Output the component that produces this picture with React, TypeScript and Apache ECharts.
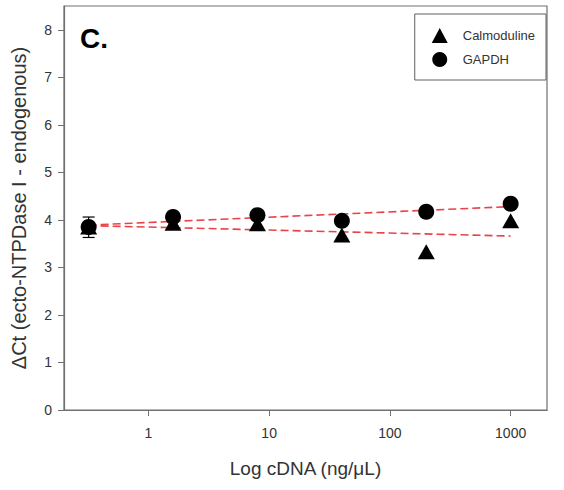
import React, { useEffect, useRef } from "react";
import * as echarts from "echarts";

const concentrations = [0.32, 1.6, 8, 40, 200, 1000];
const calmoduline = [3.85, 3.93, 3.92, 3.68, 3.33, 3.98];
const gapdh = [3.85, 4.06, 4.1, 3.98, 4.17, 4.34];
const errorBars = [[0.32, 3.63, 4.06]];
const calmFit = [[0.32, 3.88], [1000, 3.66]];
const gapdhFit = [[0.32, 3.89], [1000, 4.28]];
const xTickValues = [1, 10, 100, 1000];
const yTicks = [0, 1, 2, 3, 4, 5, 6, 7, 8];

const lg = (v: number) => Math.log10(v);
const FONT = "Liberation Sans, Arial, sans-serif";

export default function App() {
  const ref = useRef<HTMLDivElement>(null);
  useEffect(() => {
    if (!ref.current) return;
    const chart = echarts.init(ref.current, null, { renderer: "svg" });
    const axisColor = "#707070";
    chart.setOption({
      animation: false,
      backgroundColor: "#ffffff",
      textStyle: { fontFamily: FONT },
      grid: {
        left: 64,
        right: 17,
        top: 6,
        bottom: 80,
        show: true,
        borderColor: axisColor,
        borderWidth: 1.2,
      },
      legend: {
        data: ["Calmoduline", "GAPDH"],
        orient: "vertical",
        right: 18,
        top: 14,
        backgroundColor: "#ffffff",
        borderColor: "#606060",
        borderWidth: 1,
        padding: [14, 11, 13, 17],
        itemGap: 9,
        itemWidth: 16,
        itemHeight: 15,
        textStyle: { fontSize: 13, color: "#333", fontFamily: FONT, padding: [0, 0, 0, 10] },
      },
      xAxis: {
        type: "value",
        min: lg(0.2),
        max: lg(2000),
        name: "Log cDNA (ng/\u03bcL)",
        nameLocation: "middle",
        nameGap: 49,
        nameTextStyle: { fontSize: 19, color: "#333", fontFamily: FONT },
        splitLine: { show: false },
        axisLine: { show: true, onZero: false, lineStyle: { color: axisColor, width: 1.2 } },
        axisTick: {
          show: true,
          length: 6,
          lineStyle: { color: axisColor },
          customValues: xTickValues.map(lg),
        },
        axisLabel: {
          fontSize: 14,
          color: "#333",
          margin: 16,
          customValues: xTickValues.map(lg),
          formatter: (v: number) => String(Math.round(Math.pow(10, v))),
        },
      },
      yAxis: {
        type: "value",
        min: 0,
        max: 8.5,
        name: "\u0394Ct (ecto-NTPDase I - endogenous)",
        nameLocation: "middle",
        nameGap: 35,
        nameTextStyle: { fontSize: 20, color: "#333", fontFamily: FONT },
        splitLine: { show: false },
        axisLine: { show: true, onZero: false, lineStyle: { color: axisColor, width: 1.2 } },
        axisTick: { show: true, length: 6, lineStyle: { color: axisColor }, customValues: yTicks },
        axisLabel: { fontSize: 14, color: "#333", margin: 12, customValues: yTicks },
      },
      graphic: [
        {
          type: "text",
          left: 80,
          top: 24,
          style: { text: "C.", font: `bold 28px ${FONT}`, fill: "#000" },
        },
      ],
      series: [
        {
          type: "line",
          data: gapdhFit.map(([x, y]) => [lg(x), y]),
          symbol: "none",
          lineStyle: { color: "#e8434a", width: 1.6, type: [8, 4] },
          z: 1,
        },
        {
          type: "line",
          data: calmFit.map(([x, y]) => [lg(x), y]),
          symbol: "none",
          lineStyle: { color: "#e8434a", width: 1.6, type: [8, 4] },
          z: 1,
        },
        {
          type: "custom",
          z: 2,
          data: errorBars.map(([x, lo, hi]) => [lg(x), lo, hi]),
          renderItem: (params: any, api: any) => {
            const x = api.value(0);
            const lo = api.coord([x, api.value(1)]);
            const hi = api.coord([x, api.value(2)]);
            const cap = 6;
            const style = { stroke: "#000", lineWidth: 1.2 };
            return {
              type: "group",
              children: [
                { type: "line", shape: { x1: lo[0], y1: lo[1], x2: hi[0], y2: hi[1] }, style },
                { type: "line", shape: { x1: lo[0] - cap, y1: lo[1], x2: lo[0] + cap, y2: lo[1] }, style },
                { type: "line", shape: { x1: hi[0] - cap, y1: hi[1], x2: hi[0] + cap, y2: hi[1] }, style },
              ],
            };
          },
        },
        {
          name: "Calmoduline",
          type: "scatter",
          symbol: "triangle",
          symbolSize: [17, 15],
          itemStyle: { color: "#000", opacity: 1 },
          data: concentrations.map((c, i) => [lg(c), calmoduline[i]]),
          z: 3,
        },
        {
          name: "GAPDH",
          type: "scatter",
          symbol: "circle",
          symbolSize: 16,
          itemStyle: { color: "#000", opacity: 1 },
          data: concentrations.map((c, i) => [lg(c), gapdh[i]]),
          z: 4,
        },
      ],
    });
    return () => chart.dispose();
  }, []);
  return (
    <div
      ref={ref}
      style={{ position: "fixed", left: 0, top: 0, width: 564, height: 490 }}
    />
  );
}
